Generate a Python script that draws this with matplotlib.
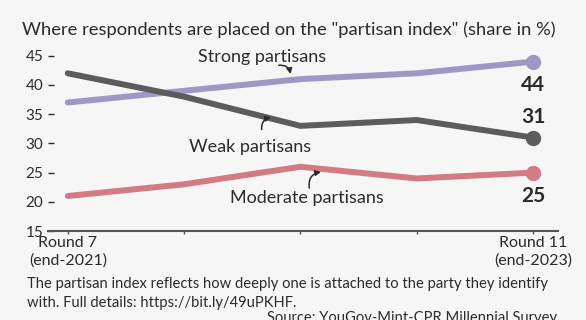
import matplotlib.pyplot as plt
from matplotlib.transforms import ScaledTranslation

plt.rcParams['font.family'] = ['Lato', 'DejaVu Sans']

# survey rounds and shares (%)
rounds = ['Round 7\n(end-2021)', '', '', '', 'Round 11\n(end-2023)']
strong = [37, 39, 41, 42, 44]
weak = [42, 38, 33, 34, 31]
moderate = [21, 23, 26, 24, 25]
y_ticks = [15, 20, 25, 30, 35, 40, 45]

bg = '#f6f6f6'
text_col = '#2b2b2b'
c_strong = '#9e98c6'
c_weak = '#5b5d5c'
c_mod = '#d27b83'

fig = plt.figure(figsize=(5.86, 3.2), dpi=100, facecolor=bg)
ax = fig.add_axes([48 / 586, 0.278, 510 / 586, 0.566])
ax.set_facecolor(bg)

x = list(range(len(rounds)))
for vals, col in [(strong, c_strong), (weak, c_weak), (moderate, c_mod)]:
    ax.plot(x, vals, color=col, lw=4.3, solid_capstyle='round', solid_joinstyle='round')
    ax.plot(x[-1], vals[-1], 'o', color=col, ms=10)

# end values
ax.annotate(str(strong[-1]), (x[-1], strong[-1]), xytext=(0, -17), textcoords='offset points',
            ha='center', va='center', fontsize=15, fontweight='bold', color=text_col)
ax.annotate(str(weak[-1]), (x[-1], weak[-1]), xytext=(0, 15), textcoords='offset points',
            ha='center', va='center', fontsize=15, fontweight='bold', color=text_col)
ax.annotate(str(moderate[-1]), (x[-1], moderate[-1]), xytext=(0, -17), textcoords='offset points',
            ha='center', va='center', fontsize=15, fontweight='bold', color=text_col)

# series labels with little curved arrows
arrow = dict(arrowstyle='-|>', color=text_col, lw=1.1, mutation_scale=8,
             connectionstyle='arc3,rad=-0.55')
ax.text(1.67, 44.8, 'Strong partisans', ha='center', va='center', fontsize=13, color=text_col)
ax.annotate('', xy=(1.92, 41.4), xytext=(1.79, 43.3), arrowprops=arrow)
ax.text(1.57, 29.4, 'Weak partisans', ha='center', va='center', fontsize=13, color=text_col)
ax.annotate('', xy=(1.77, 34.5), xytext=(1.67, 31.9), arrowprops=arrow)
ax.text(2.06, 20.7, 'Moderate partisans', ha='center', va='center', fontsize=13, color=text_col)
ax.annotate('', xy=(2.20, 25.2), xytext=(2.08, 21.9), arrowprops=arrow)

ax.set_xlim(-0.17, 4.215)
ax.set_ylim(15, 46)
ax.set_yticks(y_ticks)
ax.set_xticks(x)
ax.set_xticklabels(rounds, linespacing=1.35)
# nudge the first and last round labels a little, like the original
labels = ax.get_xticklabels()
labels[0].set_transform(labels[0].get_transform() + ScaledTranslation(4 / 100, 0, fig.dpi_scale_trans))
labels[-1].set_transform(labels[-1].get_transform() + ScaledTranslation(-6 / 100, 0, fig.dpi_scale_trans))

for spine in ['left', 'top', 'right']:
    ax.spines[spine].set_visible(False)
ax.spines['bottom'].set_color('#555555')
ax.spines['bottom'].set_linewidth(1.5)
ax.tick_params(axis='y', direction='in', length=4, width=1, color=text_col, pad=3.5,
               labelsize=11, labelcolor=text_col)
ax.tick_params(axis='x', direction='out', length=2.5, width=1, color='#555555', pad=1,
               labelsize=11.5, labelcolor=text_col)

fig.text(22 / 586, 1 - 30 / 320, 'Where respondents are placed on the "partisan index" (share in %)',
         ha='left', va='center', fontsize=13.2, color=text_col)
fig.text(27 / 586, 1 - 293.5 / 320,
         'The partisan index reflects how deeply one is attached to the party they identify\n'
         'with. Full details: https://bit.ly/49uPKHF.',
         ha='left', va='center', fontsize=10.6, color=text_col, linespacing=1.4)
fig.text(557 / 586, 1 - 318 / 320, 'Source: YouGov-Mint-CPR Millennial Survey',
         ha='right', va='center', fontsize=10.6, color=text_col)

fig.savefig('out.png', dpi=100, facecolor=bg)
